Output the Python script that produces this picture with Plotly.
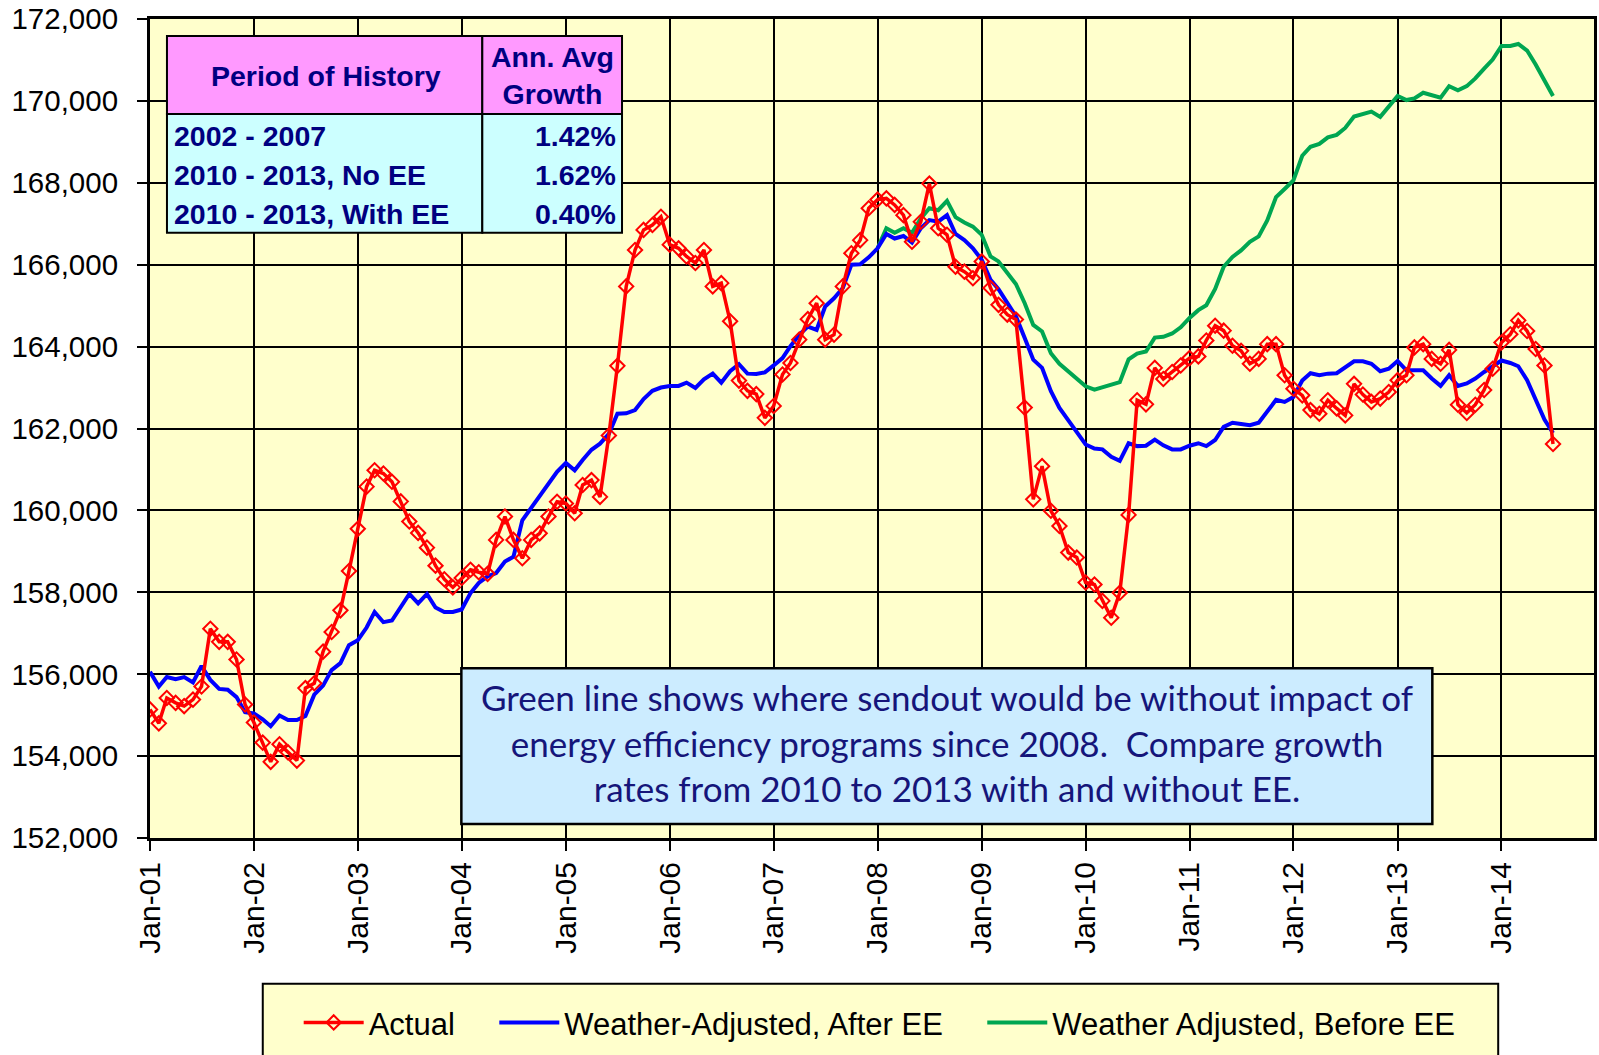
import plotly.graph_objects as go
import pandas as pd

# ---------------- data ----------------
start_month = "2001-01-01"
green_start = "2008-01-01"

actual = [
    155140, 154800, 155420, 155300, 155220, 155380, 155700, 157110, 156790, 156790, 156360, 155260,
    154820, 154330, 153860, 154290, 154090, 153890, 155660, 155780, 156550, 157030, 157560, 158520,
    159550, 160580, 160980, 160900, 160700, 160220, 159730, 159450, 159090, 158650, 158320, 158120,
    158350, 158550, 158490, 158450, 159280, 159850, 159280, 158830, 159280, 159440, 159850, 160210,
    160170, 159930, 160620, 160740, 160330, 161830, 163530, 165470, 166360, 166850, 166970, 167170,
    166490, 166400, 166200, 166040, 166360, 165470, 165550, 164620, 163170, 162920, 162840, 162260,
    162550, 163320, 163600, 164170, 164670, 165060, 164170, 164290, 165470, 166280, 166600, 167380,
    167590, 167620, 167460, 167210, 166560, 167050, 167980, 166890, 166730, 165950, 165830, 165670,
    166080, 165430, 165020, 164780, 164660, 162510, 160270, 161080, 159990, 159620, 158970, 158850,
    158240, 158190, 157790, 157380, 157990, 159890, 162690, 162590, 163480, 163210, 163380, 163540,
    163720, 163760, 164150, 164510, 164390, 164020, 163900, 163580, 163700, 164060, 164060, 163300,
    162970, 162810, 162450, 162360, 162690, 162490, 162320, 163090, 162830, 162650, 162730, 162890,
    163180, 163300, 163980, 164060, 163700, 163580, 163920, 162580, 162380, 162580, 162940, 163460,
    164100, 164300, 164640, 164380, 163940, 163540, 161620,
]

after_ee = [
    156060, 155700, 155930, 155880, 155930, 155800, 156200, 155860, 155640, 155620, 155440, 155070,
    155040, 154900, 154730, 154990, 154880, 154880, 154980, 155500, 155720, 156100, 156270, 156710,
    156830, 157140, 157520, 157270, 157310, 157630, 157960, 157730, 157960, 157630, 157520, 157520,
    157580, 157980, 158230, 158390, 158470, 158750, 158870, 159760, 160050, 160330, 160620, 160940,
    161160, 160980, 161230, 161480, 161630, 161870, 162360, 162370, 162450, 162720, 162920, 163000,
    163040, 163040, 163120, 162990, 163200, 163340, 163120, 163400, 163570, 163340, 163330, 163370,
    163540, 163720, 164010, 164290, 164490, 164410, 164980, 165180, 165430, 166000, 166010, 166180,
    166400, 166750, 166640, 166700, 166540, 166890, 167090, 167050, 167210, 166750, 166600, 166400,
    166120, 165630, 165400, 165060, 164740, 164210, 163680, 163480, 162910, 162500, 162220, 161910,
    161610, 161510, 161490, 161310, 161210, 161640, 161570, 161580, 161730, 161590, 161490, 161490,
    161580, 161640, 161570, 161720, 162040, 162140, 162110, 162080, 162140, 162400, 162700, 162650,
    162770, 163170, 163350, 163300, 163340, 163350, 163480, 163640, 163640, 163580, 163400, 163460,
    163650, 163420, 163420, 163420, 163220, 163040, 163300, 163040, 163100, 163220, 163380, 163520,
    163660, 163600, 163520, 163180, 162700, 162220, 161890,
]

before_ee = [
    166400, 166890, 166780, 166890, 166780, 167130, 167380, 167330, 167560, 167160, 167030, 166930,
    166730, 166200, 166080, 165790, 165530, 165060, 164530, 164370, 163840, 163580, 163400, 163210,
    163030, 162950, 163010, 163070, 163130, 163690, 163830, 163880, 164220, 164240, 164320, 164470,
    164700, 164890, 165010, 165410, 165950, 166190, 166350, 166560, 166690, 167080, 167650, 167850,
    168060, 168660, 168880, 168950, 169110, 169170, 169340, 169620, 169680, 169740, 169610, 169880,
    170120, 170020, 170060, 170200, 170150, 170080, 170360, 170260, 170360, 170550, 170790, 171010,
    171340, 171340, 171390, 171230, 170890, 170490, 170120,
]

series_names = ["Actual", "Weather-Adjusted, After EE", "Weather Adjusted, Before EE"]

table_header = ["Period of History", "Ann. Avg<br>Growth"]
table_periods = ["2002 - 2007", "2010 - 2013, No EE", "2010 - 2013, With EE"]
table_growth = ["1.42%", "1.62%", "0.40%"]

note_text = ("Green line shows where sendout would be without impact of<br>"
             "energy efficiency programs since 2008.  Compare growth<br>"
             "rates from 2010 to 2013 with and without EE.")

dates = pd.date_range(start_month, periods=len(actual), freq="MS")
green_dates = pd.date_range(green_start, periods=len(before_ee), freq="MS")

# ---------------- layout helpers (pixel -> paper) ----------------
W, H = 1599, 1055
PL, PR, PT, PB = 150, 1597, 18, 838


def px(x):
    return (x - PL) / (PR - PL)


def py(y):
    return (PB - y) / (PB - PT)


NAVY = "#000080"
TICKFONT = "Liberation Sans, Arial, sans-serif"
NB = "\u00a0"

fig = go.Figure()

fig.add_trace(go.Scatter(
    x=green_dates, y=before_ee, mode="lines", name=series_names[2],
    line=dict(color="#00A651", width=4), legendrank=3))
fig.add_trace(go.Scatter(
    x=dates, y=after_ee, mode="lines", name=series_names[1] + NB * 4,
    line=dict(color="#0000FF", width=4), legendrank=2))
fig.add_trace(go.Scatter(
    x=dates, y=actual, mode="lines+markers", name=series_names[0] + NB * 4,
    line=dict(color="#FF0000", width=3.5),
    marker=dict(symbol="diamond-open", size=11, color="#FF0000",
                line=dict(color="#FF0000", width=2)),
    legendrank=1))

shapes = []
annotations = []


def rect(x0, y0, x1, y1, fill, lw=2):
    shapes.append(dict(type="rect", xref="paper", yref="paper",
                       x0=px(x0), x1=px(x1), y0=py(y1), y1=py(y0),
                       fillcolor=fill, line=dict(color="black", width=lw),
                       layer="above"))


# table
rect(167, 35, 483, 113, "#FF99FF")
rect(483, 35, 623, 113, "#FF99FF")
rect(167, 113, 483, 232, "#CCFFFF")
rect(483, 113, 623, 232, "#CCFFFF")

TF = dict(family=TICKFONT, size=28.5, color=NAVY)
annotations.append(dict(xref="paper", yref="paper", x=px(326), y=py(75),
                        text="<b>" + table_header[0] + "</b>", showarrow=False,
                        xanchor="center", yanchor="middle", font=TF))
annotations.append(dict(xref="paper", yref="paper", x=px(553), y=py(75),
                        text="<b>" + table_header[1] + "</b>", showarrow=False,
                        xanchor="center", yanchor="middle", font=TF))
row_y = [135, 174, 213]
for ry, per, gr in zip(row_y, table_periods, table_growth):
    annotations.append(dict(xref="paper", yref="paper", x=px(172), y=py(ry),
                            text="<b>" + per + "</b>", showarrow=False,
                            xanchor="left", yanchor="middle", font=TF))
    annotations.append(dict(xref="paper", yref="paper", x=px(619), y=py(ry),
                            text="<b>" + gr + "</b>", showarrow=False,
                            xanchor="right", yanchor="middle", font=TF))

# note box
rect(462, 668, 1435, 824, "#CCECFF", lw=2.5)
annotations.append(dict(xref="paper", yref="paper", x=px(949), y=py(742),
                        text=note_text, showarrow=False, align="center",
                        xanchor="center", yanchor="middle",
                        font=dict(family="Lato, Carlito, sans-serif", size=35,
                                  color="#15157A")))

# legend box
rect(263, 984, 1501, 1062, "#FFFFCC", lw=2)

fig.update_layout(
    width=W, height=H,
    margin=dict(l=PL, r=W - PR, t=PT, b=H - PB, pad=0),
    paper_bgcolor="white",
    plot_bgcolor="#FFFFCC",
    shapes=shapes,
    annotations=annotations,
    showlegend=True,
    legend=dict(orientation="h", x=px(299), y=py(1023), xanchor="left",
                yanchor="middle", bgcolor="rgba(0,0,0,0)", borderwidth=0,
                font=dict(family=TICKFONT, size=31, color="black"),
                itemwidth=60, traceorder="normal"),
    font=dict(family=TICKFONT),
)

fig.update_xaxes(
    type="date",
    range=["2001-01-01", "2014-11-22"],
    tick0="2001-01-01", dtick="M12", tickformat="%b-%y",
    tickangle=-90,
    tickfont=dict(family=TICKFONT, size=30, color="black"),
    showgrid=True, gridcolor="black", gridwidth=2,
    showline=True, linecolor="black", linewidth=3, mirror=True,
    ticks="outside", ticklen=10, tickwidth=2, tickcolor="black",
    ticklabelstandoff=-1,
    zeroline=False,
)
fig.update_yaxes(
    range=[152000, 172000], dtick=2000, tick0=152000, tickformat=",d",
    tickfont=dict(family=TICKFONT, size=29.5, color="black"),
    showgrid=True, gridcolor="black", gridwidth=2,
    showline=True, linecolor="black", linewidth=3, mirror=True,
    ticks="outside", ticklen=10, tickwidth=2, tickcolor="black",
    ticklabelstandoff=13,
    zeroline=False,
)

fig.write_html("out.html", config={"displayModeBar": False},
               post_script="document.body.style.margin='0';")
